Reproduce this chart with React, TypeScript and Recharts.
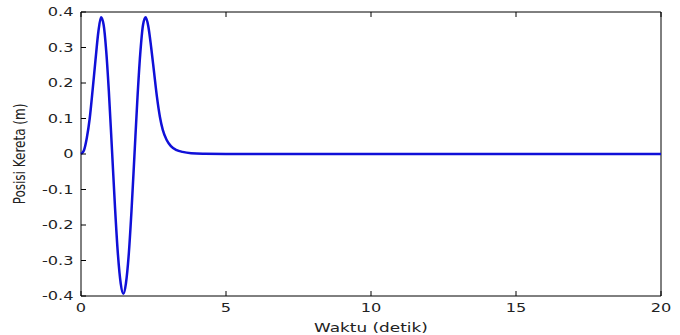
import { LineChart, Line, XAxis, YAxis, ReferenceArea } from "recharts";

// waktu (detik) dan posisi kereta (m)
const waktu = [
  0, 0.1, 0.2, 0.3, 0.4, 0.5, 0.6, 0.69, 0.78, 0.87, 0.96, 1.07, 1.17, 1.27,
  1.37, 1.46, 1.55, 1.64, 1.74, 1.84, 1.94, 2.04, 2.14, 2.23, 2.32, 2.42, 2.52,
  2.62, 2.72, 2.82, 2.95, 3.1, 3.3, 3.5, 3.8, 4.2, 5, 7.5, 10, 12.5, 15, 17.5, 20,
];
const posisi = [
  0, 0.01, 0.045, 0.1, 0.18, 0.265, 0.345, 0.385, 0.364, 0.29, 0.177, 0.009,
  -0.146, -0.279, -0.365, -0.394, -0.364, -0.29, -0.162, -0.008, 0.148, 0.279,
  0.364, 0.385, 0.36, 0.3, 0.23, 0.16, 0.105, 0.068, 0.04, 0.022, 0.011, 0.006,
  0.002, 0.0005, 0, 0, 0, 0, 0, 0, 0,
];
const xTicks = [0, 5, 10, 15, 20];
const yTicks = [-0.4, -0.3, -0.2, -0.1, 0, 0.1, 0.2, 0.3, 0.4];

const data = waktu.map((t, i) => ({ t, pos: posisi[i] }));

const font = "'DejaVu Sans', Verdana, sans-serif";
const textColor = "#222";
const stretch = 1.35; // teks asli tampak melebar ke samping
const tickLen = 5;

// tick gaya MATLAB: garis ke dalam + label
const LeftTick = ({ x, y, payload }: any) => (
  <g>
    <line x1={x} x2={x + tickLen} y1={y} y2={y} stroke="#000" />
    <text
      transform={`translate(${x - 7.5},${y + 4.3}) scale(${stretch},1)`}
      textAnchor="end"
      fontSize={12}
      fontFamily={font}
      fill={textColor}
    >
      {String(payload.value)}
    </text>
  </g>
);

const RightTick = ({ x, y }: any) => (
  <line x1={x} x2={x - tickLen} y1={y} y2={y} stroke="#000" />
);

const BottomTick = ({ x, y, payload }: any) => (
  <g>
    <line x1={x} x2={x} y1={y} y2={y - tickLen} stroke="#000" />
    <text
      transform={`translate(${x},${y + 15.5}) scale(${stretch},1)`}
      textAnchor="middle"
      fontSize={12}
      fontFamily={font}
      fill={textColor}
    >
      {String(payload.value)}
    </text>
  </g>
);

const TopTick = ({ x, y }: any) => (
  <line x1={x} x2={x} y1={y} y2={y + tickLen} stroke="#000" />
);

const XLabel = ({ viewBox }: any) => (
  <text
    transform={`translate(${viewBox.x + viewBox.width / 2},${viewBox.y + viewBox.height + 5.5}) scale(1.3,1)`}
    textAnchor="middle"
    fontSize={13}
    fontFamily={font}
    fill={textColor}
  >
    Waktu (detik)
  </text>
);

const YLabel = ({ viewBox }: any) => (
  <text
    transform={`translate(${viewBox.x + 19.5},${viewBox.y + viewBox.height / 2}) rotate(-90) scale(1,1.3)`}
    textAnchor="middle"
    dominantBaseline="central"
    fontSize={12}
    fontFamily={font}
    fill={textColor}
  >
    Posisi Kereta (m)
  </text>
);

export default function App() {
  return (
    <div style={{ position: "absolute", left: 0, top: 0, background: "#fff" }}>
      <LineChart
        width={680}
        height={335}
        data={data}
        margin={{ top: 11, right: 18, bottom: 9, left: 0 }}
      >
        <XAxis
          dataKey="t"
          type="number"
          domain={[0, 20]}
          ticks={xTicks}
          interval={0}
          height={30}
          axisLine={false}
          tickLine={false}
          tickSize={0}
          tickMargin={0}
          tick={BottomTick}
          label={<XLabel />}
        />
        <XAxis
          xAxisId="top"
          orientation="top"
          dataKey="t"
          type="number"
          domain={[0, 20]}
          ticks={xTicks}
          interval={0}
          height={1}
          axisLine={false}
          tickLine={false}
          tickSize={0}
          tickMargin={0}
          tick={TopTick}
        />
        <YAxis
          type="number"
          domain={[-0.4, 0.4]}
          ticks={yTicks}
          interval={0}
          width={81}
          axisLine={false}
          tickLine={false}
          tickSize={0}
          tickMargin={0}
          tick={LeftTick}
          allowDataOverflow
          label={<YLabel />}
        />
        <YAxis
          yAxisId="right"
          orientation="right"
          type="number"
          domain={[-0.4, 0.4]}
          ticks={yTicks}
          interval={0}
          width={1}
          axisLine={false}
          tickLine={false}
          tickSize={0}
          tickMargin={0}
          tick={RightTick}
        />
        <ReferenceArea
          x1={0}
          x2={20}
          y1={-0.4}
          y2={0.4}
          fill="none"
          stroke="#000"
          strokeWidth={1}
          fillOpacity={0}
        />
        <Line
          type="monotone"
          dataKey="pos"
          stroke="#1010d8"
          strokeWidth={2.5}
          dot={false}
          isAnimationActive={false}
        />
      </LineChart>
    </div>
  );
}
